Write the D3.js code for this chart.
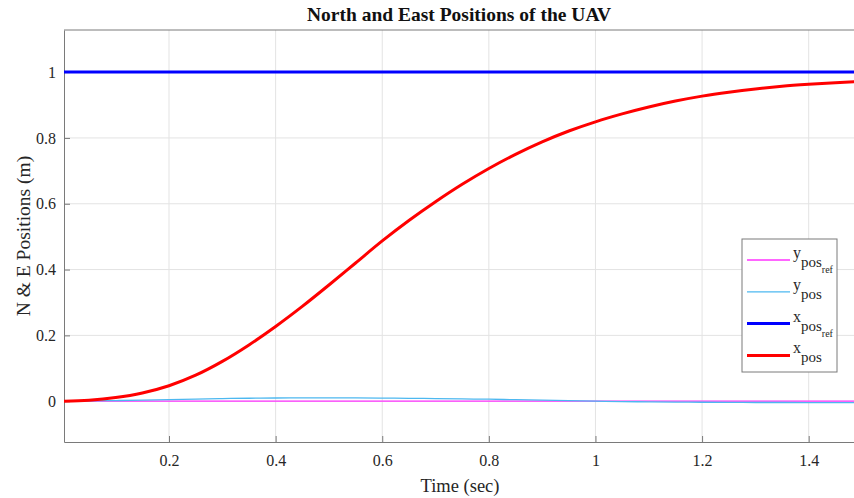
<!DOCTYPE html>
<html>
<head>
<meta charset="utf-8">
<script src="https://cdn.jsdelivr.net/npm/d3@7/dist/d3.min.js"></script>
<style>
  body { margin: 0; background: #fff; }
  svg { display: block; }
  .grid line { stroke: #e3e3e3; stroke-width: 1; }
  .axis text { font-family: "Liberation Serif", "DejaVu Serif", serif; font-size: 16px; fill: #262626; }
  .axis path, .axis line { stroke: #7a7a7a; }
</style>
</head>
<body>
<div class="chart-wrapper"></div>
<script>
// time samples (sec)
var timeVals = [0, 0.05, 0.1, 0.15, 0.2, 0.25, 0.3, 0.35, 0.4, 0.45, 0.5, 0.55, 0.6, 0.65, 0.7, 0.75,
  0.8, 0.85, 0.9, 0.95, 1.0, 1.05, 1.1, 1.15, 1.2, 1.25, 1.3, 1.35, 1.4, 1.45, 1.5];
// x position (red)
var xPos = [0, 0.003, 0.011, 0.025, 0.047, 0.079, 0.121, 0.171, 0.227, 0.288, 0.353, 0.420, 0.487, 0.549, 0.606, 0.659,
  0.707, 0.750, 0.788, 0.821, 0.849, 0.873, 0.894, 0.912, 0.927, 0.939, 0.949, 0.957, 0.963, 0.968, 0.972];
// y position (light blue)
var yPos = [0, 0.001, 0.002, 0.0035, 0.005, 0.0065, 0.008, 0.009, 0.0097, 0.01, 0.01, 0.0098, 0.0094, 0.0088, 0.008, 0.007,
  0.006, 0.0045, 0.003, 0.0015, 0.0, -0.0012, -0.002, -0.0027, -0.0032, -0.0036, -0.0039, -0.004, -0.0041, -0.0041, -0.0041];
var xPosRef = timeVals.map(function(){ return 1; });
var yPosRef = timeVals.map(function(){ return 0; });

var xTicks = [0.2, 0.4, 0.6, 0.8, 1, 1.2, 1.4];
var yTicks = [0, 0.2, 0.4, 0.6, 0.8, 1];

var series = [
  {name: "y", sub: "pos", subsub: "ref", values: yPosRef, color: "#ff33ff", width: 1.3},
  {name: "y", sub: "pos", subsub: null, values: yPos, color: "#4db8f0", width: 1.3},
  {name: "x", sub: "pos", subsub: "ref", values: xPosRef, color: "#0000ff", width: 3},
  {name: "x", sub: "pos", subsub: null, values: xPos, color: "#ff0000", width: 3}
];

var W = 854, H = 498;
var margin = {top: 30, left: 64, bottom: 56, right: 0};
var width = 862 - margin.left, height = H - margin.top - margin.bottom;

var x = d3.scaleLinear().domain([0.003, 1.5]).range([0, width]);
var y = d3.scaleLinear().domain([-0.124, 1.128]).range([height, 0]);

var svg = d3.select('.chart-wrapper').append("svg")
  .attr("width", W).attr("height", H);

var g = svg.append("g")
  .attr("transform", "translate(" + margin.left + "," + margin.top + ")");

// grid
var grid = g.append("g").attr("class", "grid");
grid.selectAll(".gx").data(xTicks).enter().append("line")
  .attr("x1", function(d){ return x(d); }).attr("x2", function(d){ return x(d); })
  .attr("y1", 0).attr("y2", height);
grid.selectAll(".gy").data(yTicks).enter().append("line")
  .attr("y1", function(d){ return y(d); }).attr("y2", function(d){ return y(d); })
  .attr("x1", 0).attr("x2", width);

g.append("g")
  .attr("class", "axis axis--x")
  .attr("transform", "translate(0," + height + ")")
  .call(d3.axisBottom(x).tickValues(xTicks).tickSize(-6).tickPadding(13).tickSizeOuter(0)
    .tickFormat(function(d){ return d3.format("")(d); }));

g.append("g")
  .attr("class", "axis axis--y")
  .call(d3.axisLeft(y).tickValues(yTicks).tickSize(-6).tickPadding(8).tickSizeOuter(0)
    .tickFormat(function(d){ return d3.format("")(d); }));

// top frame line
g.append("line")
  .attr("x1", 0).attr("x2", width).attr("y1", 0).attr("y2", 0)
  .attr("stroke", "#7a7a7a");

var line = d3.line()
  .x(function(d, i){ return x(timeVals[i]); })
  .y(function(d){ return y(d); })
  .curve(d3.curveMonotoneX);

g.append("clipPath").attr("id", "clip").append("rect")
  .attr("width", width).attr("height", height);

g.append("g").attr("clip-path", "url(#clip)")
  .selectAll(".series")
  .data(series)
  .enter().append("path")
  .attr("fill", "none")
  .attr("stroke", function(d){ return d.color; })
  .attr("stroke-width", function(d){ return d.width; })
  .attr("d", function(d){ return line(d.values); });

// title
svg.append("text")
  .attr("x", 459).attr("y", 21)
  .attr("text-anchor", "middle")
  .style("font-family", "Liberation Serif, serif")
  .style("font-weight", "bold")
  .style("font-size", "19.5px")
  .style("fill", "#111")
  .text("North and East Positions of the UAV");

svg.append("text")
  .attr("transform", "rotate(-90)")
  .attr("y", 30)
  .attr("x", -236)
  .style("text-anchor", "middle")
  .style("font-family", "Liberation Serif, serif")
  .style("font-size", "19.5px")
  .style("fill", "#262626")
  .text("N & E Positions (m)");

svg.append("text")
  .attr("x", 460).attr("y", 492)
  .style("text-anchor", "middle")
  .style("font-family", "Liberation Serif, serif")
  .style("font-size", "18.5px")
  .style("fill", "#262626")
  .text("Time (sec)");

// legend
var legend = svg.append("g").attr("transform", "translate(742,239)");
legend.append("rect")
  .attr("width", 95).attr("height", 133)
  .attr("fill", "#fff").attr("stroke", "#7a7a7a");

var rows = legend.selectAll(".row").data(series).enter().append("g")
  .attr("transform", function(d, i){ return "translate(0," + (21 + i * 31.8) + ")"; });
rows.append("line")
  .attr("x1", 5).attr("x2", 48)
  .attr("stroke", function(d){ return d.color; })
  .attr("stroke-width", function(d){ return d.width; });
var lt = rows.append("text")
  .attr("x", 51).attr("y", -2)
  .style("font-family", "Liberation Serif, serif")
  .style("font-size", "16px")
  .style("fill", "#262626");
lt.append("tspan").text(function(d){ return d.name; });
lt.append("tspan").attr("dy", 9).style("font-size", "15px").text(function(d){ return d.sub; });
lt.filter(function(d){ return d.subsub; })
  .append("tspan").attr("dy", 6).style("font-size", "10px").text(function(d){ return d.subsub; });
</script>
</body>
</html>
